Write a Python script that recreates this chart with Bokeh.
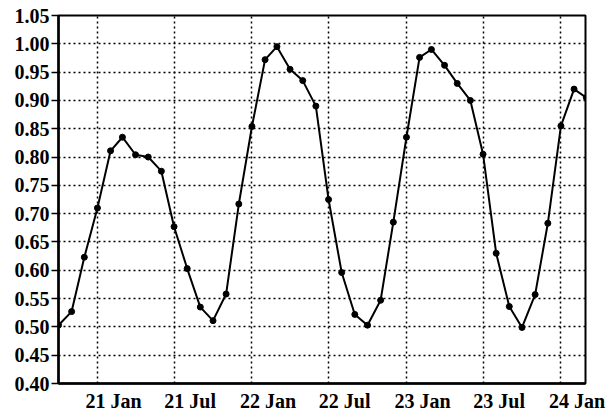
import pandas as pd
from bokeh.plotting import figure
from bokeh.models import (FixedTicker, MonthsTicker, DatetimeTickFormatter, Range1d,
                          NumeralTickFormatter, DatetimeAxis)
from bokeh.embed import file_html
from bokeh.resources import INLINE

months = ["2020-10", "2020-11", "2020-12",
          "2021-01", "2021-02", "2021-03", "2021-04", "2021-05", "2021-06",
          "2021-07", "2021-08", "2021-09", "2021-10", "2021-11", "2021-12",
          "2022-01", "2022-02", "2022-03", "2022-04", "2022-05", "2022-06",
          "2022-07", "2022-08", "2022-09", "2022-10", "2022-11", "2022-12",
          "2023-01", "2023-02", "2023-03", "2023-04", "2023-05", "2023-06",
          "2023-07", "2023-08", "2023-09", "2023-10", "2023-11", "2023-12",
          "2024-01", "2024-02", "2024-03"]
values = [0.503, 0.527, 0.623,
          0.710, 0.811, 0.835, 0.804, 0.800, 0.775,
          0.677, 0.603, 0.535, 0.511, 0.558, 0.717,
          0.854, 0.972, 0.995, 0.955, 0.935, 0.890,
          0.725, 0.596, 0.522, 0.503, 0.547, 0.685,
          0.835, 0.976, 0.990, 0.962, 0.930, 0.900,
          0.805, 0.630, 0.536, 0.499, 0.557, 0.683,
          0.855, 0.920, 0.905]
y_ticks = [0.40, 0.45, 0.50, 0.55, 0.60, 0.65, 0.70, 0.75, 0.80, 0.85, 0.90, 0.95, 1.00, 1.05]
x_start = "2020-10-01"
x_end = "2024-02-28"

dates = pd.to_datetime(months, format="%Y-%m")
t0, t1 = pd.Timestamp(x_start), pd.Timestamp(x_end)
label_shift = pd.Timedelta(days=38)  # labels sit right of their grid lines

FONT = "Liberation Serif"

p = figure(width=613, height=414, x_axis_type="datetime",
           x_range=Range1d(t0, t1), y_range=Range1d(0.40, 1.05),
           output_backend="svg", toolbar_location=None,
           min_border_left=58, min_border_top=15, min_border_right=28, min_border_bottom=30)

p.background_fill_color = "white"
p.border_fill_color = "white"
p.outline_line_color = "black"
p.outline_line_width = 2

p.line(dates, values, line_color="black", line_width=2)
p.scatter(dates, values, size=6, fill_color="black", line_color="black")

p.yaxis.ticker = FixedTicker(ticks=y_ticks)
p.yaxis.formatter = NumeralTickFormatter(format="0.00")
p.xaxis.visible = False
p.xgrid.ticker = MonthsTicker(months=[0, 6])

p.extra_x_ranges = {"lbl": Range1d(t0 - label_shift, t1 - label_shift)}
xax = DatetimeAxis(x_range_name="lbl", ticker=MonthsTicker(months=[0, 6]),
                   formatter=DatetimeTickFormatter(months="%y %b", days="%y %b", years="%y %b"))
p.add_layout(xax, "below")

for ax in (xax, p.yaxis[0]):
    ax.axis_line_color = "black"
    ax.axis_line_width = 2.5
    ax.major_label_text_font = FONT
    ax.major_label_text_font_size = "20px"
    ax.major_label_text_font_style = "bold"
    ax.major_label_text_color = "black"
    ax.minor_tick_line_color = None
    ax.major_tick_in = 0
    ax.major_tick_line_color = "black"
    ax.major_tick_line_width = 1.5

p.yaxis.major_tick_out = 7
p.yaxis.major_label_standoff = 2
xax.major_tick_out = 0
xax.major_tick_line_color = None
xax.major_label_standoff = 6

for g in (p.xgrid[0], p.ygrid[0]):
    g.grid_line_color = "black"
    g.grid_line_width = 1.5
    g.grid_line_dash = "2 3"
    g.grid_line_alpha = 1.0

open("out.html", "w").write(file_html(p, INLINE))
